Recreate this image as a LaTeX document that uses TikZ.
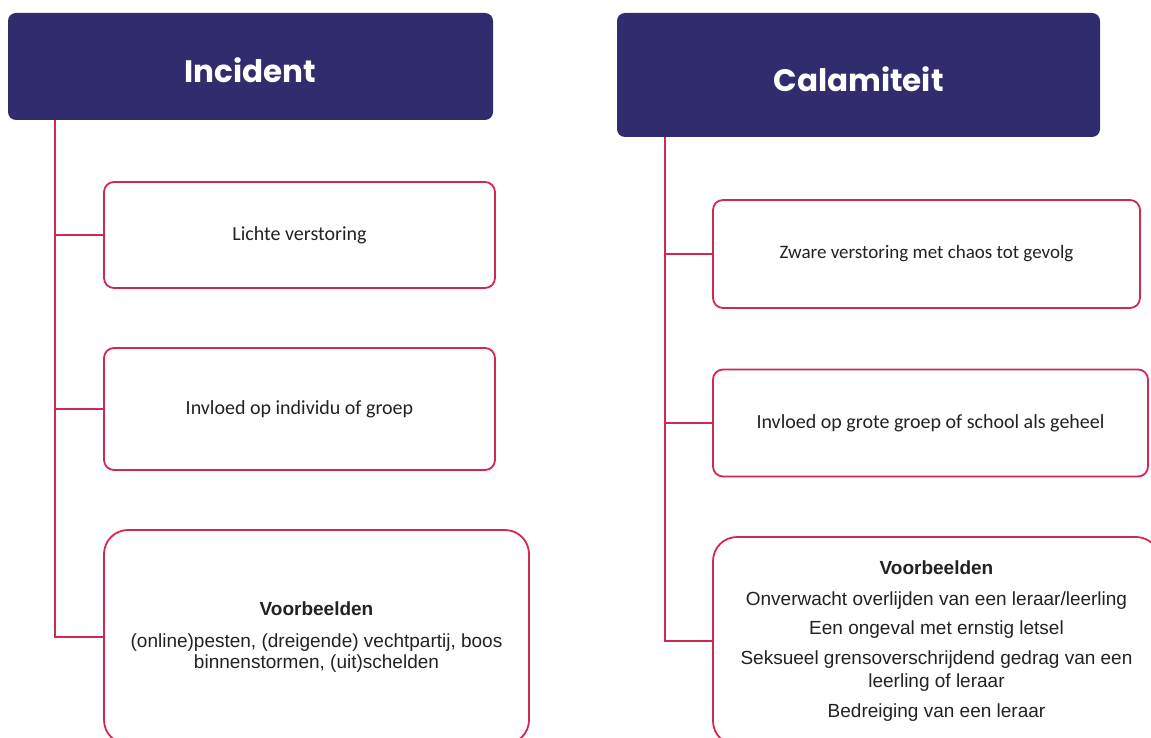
\documentclass[tikz,border=0pt]{standalone}
\usepackage{fontspec}
\setmainfont{Carlito}
\newfontfamily\headfont{Poppins}
\newfontfamily\exfont{Liberation Sans}
\usetikzlibrary{positioning}

\definecolor{navy}{RGB}{48,44,110}
\definecolor{rose}{RGB}{208,40,82}
\definecolor{ink}{RGB}{34,34,34}

\tikzset{
  hdr/.style={fill=navy, rounded corners=8pt, text=white, text height=33pt, text depth=0pt,
    font=\headfont\bfseries\fontsize{31}{36}\selectfont},
  item/.style={draw=rose, line width=1.8pt, fill=white, rounded corners=10pt, text=ink, font=\fontsize{20}{24}\selectfont},
  example/.style={item, rounded corners=24pt, align=center, font=\exfont\fontsize{19}{21}\selectfont},
  link/.style={rose, line width=1.6pt}
}

\begin{document}
\begin{tikzpicture}[x=1pt, y=-1pt]
        \useasboundingbox (0,0) rectangle (1151,738);
        \clip (0,0) rectangle (1151,738);

        % left column
        \node[hdr, minimum width=485pt, minimum height=107pt] (incident) at (250.5,66.5) {Incident};
        \coordinate (spineL) at (55,0);
        \node[item, minimum width=391pt, minimum height=106pt] (lichte) at (299.5,235) {Lichte verstoring};
        \node[item, minimum width=391pt, minimum height=122pt] (invloedL) at (299.5,409) {Invloed op individu of groep};
        \node[example, minimum width=425pt, minimum height=214pt] (voorbL) at (316.5,637)
            {\textbf{Voorbeelden}\\[11pt]
             (online)pesten, (dreigende) vechtpartij, boos\\
             binnenstormen, (uit)schelden};

        \draw[link] (incident.south -| spineL) |- (lichte.west);
        \draw[link] (incident.south -| spineL) |- (invloedL.west);
        \draw[link] (incident.south -| spineL) |- (voorbL.west);

        % right column
        \node[hdr, minimum width=483pt, minimum height=124pt] (calamiteit) at (858.5,75) {Calamiteit};
        \coordinate (spineR) at (665,0);
        \node[item, minimum width=427pt, minimum height=108pt, font=\fontsize{19}{23}\selectfont] (zwaar) at (926.5,254) {Zware verstoring met chaos tot gevolg};
        \node[item, minimum width=435pt, minimum height=107pt] (invloedR) at (930.5,423) {Invloed op grote groep of school als geheel};
        \node[example, minimum width=447pt, minimum height=208pt] (voorbR) at (936.5,641)
            {\textbf{Voorbeelden}\\[10pt]
             Onverwacht overlijden van een leraar/leerling\\[8pt]
             Een ongeval met ernstig letsel\\[9pt]
             Seksueel grensoverschrijdend gedrag van een\\[2pt]
             leerling of leraar\\[9pt]
             Bedreiging van een leraar};

        \draw[link] (calamiteit.south -| spineR) |- (zwaar.west);
        \draw[link] (calamiteit.south -| spineR) |- (invloedR.west);
        \draw[link] (calamiteit.south -| spineR) |- (voorbR.west);
    \end{tikzpicture}
\end{document}
